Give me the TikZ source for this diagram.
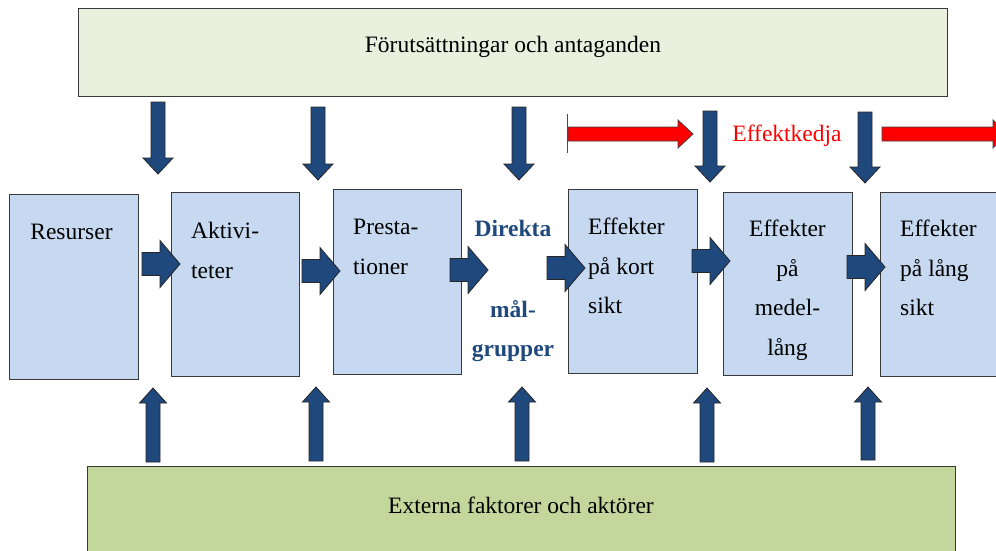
\documentclass[tikz,border=0pt]{standalone}
\usepackage{fontspec}
\setmainfont{Liberation Serif}
\definecolor{topfill}{HTML}{EBEFDE}
\definecolor{botfill}{HTML}{C3D69B}
\definecolor{boxfill}{HTML}{C6D9F1}
\definecolor{arrblue}{HTML}{1F497D}
\definecolor{boxline}{HTML}{3A3A3A}
\newcommand{\DArr}[3]{\filldraw[blockarr] (#1-7,#2) -- (#1+7,#2) -- (#1+7,#3-16) -- (#1+15,#3-16) -- (#1,#3) -- (#1-15,#3-16) -- (#1-7,#3-16) -- cycle;}
\newcommand{\UArr}[3]{\filldraw[blockarr] (#1-7,#3) -- (#1+7,#3) -- (#1+7,#2+15) -- (#1+13.5,#2+15) -- (#1,#2) -- (#1-13.5,#2+15) -- (#1-7,#2+15) -- cycle;}
\newcommand{\RArr}[3]{\filldraw[blockarr] (#1,#3-11.5) -- (#2-20,#3-11.5) -- (#2-20,#3-23.5) -- (#2,#3) -- (#2-20,#3+23.5) -- (#2-20,#3+11.5) -- (#1,#3+11.5) -- cycle;}
\newcommand{\RedArr}[2]{\filldraw[redarr] (#1,127) -- (#2-15,127) -- (#2-15,120) -- (#2,134) -- (#2-15,148) -- (#2-15,141) -- (#1,141) -- cycle;}
\begin{document}
\begin{tikzpicture}[x=1pt,y=-1pt,
  bigbox/.style={draw=boxline, line width=1.2pt, anchor=north west, inner sep=0pt},
  pbox/.style={draw=boxline, line width=1.1pt, fill=boxfill, anchor=north west, inner sep=0pt},
  blockarr/.style={fill=arrblue, draw=black!85, line width=0.8pt, line join=miter},
  redarr/.style={fill=red, draw=black!75, line width=0.8pt, line join=miter},
  txt/.style={inner sep=0pt, font=\fontsize{23.5}{39.5}\selectfont},
]
\useasboundingbox (0,0) rectangle (996,550);
\begin{scope}
\clip (0,0) rectangle (996,550);
% top and bottom boxes
\node[bigbox, fill=topfill, minimum width=869pt, minimum height=88pt] (top) at (78,8) {};
\node[bigbox, fill=botfill, minimum width=868pt, minimum height=100pt] (bot) at (87,466) {};
\node[txt, anchor=base] (toptxt) at (513,52) {Förutsättningar och antaganden};
\node[txt, anchor=base] (bottxt) at (521,513) {Externa faktorer och aktörer};
% process boxes
\node[pbox, minimum width=129pt, minimum height=185pt] (res) at (9,194) {};
\node[pbox, minimum width=128pt, minimum height=184pt] (akt) at (171,192) {};
\node[pbox, minimum width=128pt, minimum height=185pt] (pre) at (333,189) {};
\node[pbox, minimum width=129pt, minimum height=184pt] (kort) at (568,189) {};
\node[pbox, minimum width=129pt, minimum height=183pt] (medel) at (723,192) {};
\node[pbox, minimum width=130pt, minimum height=184pt] (lang) at (880,192) {};
% box texts
\node[txt, anchor=base] (restxt) at (71.5,239) {Resurser};
\node[txt, anchor=north west, align=left] (akttxt) at (191,222) {Aktivi-\\teter};
\node[txt, anchor=north west, align=left] (pretxt) at (353,219) {Presta-\\tioner};
\node[txt, anchor=north, align=center, text=arrblue, font=\fontsize{23.5}{39.5}\selectfont\bfseries] (dirtxt) at (513,220) {Direkta\\[41pt]mål-\\grupper};
\node[txt, anchor=north west, align=left] (korttxt) at (588,218) {Effekter\\på kort\\sikt};
\node[txt, anchor=north, align=center] (medeltxt) at (787.5,220) {Effekter\\på\\medel-\\lång};
\node[txt, anchor=north west, align=left] (langtxt) at (900,220) {Effekter\\på lång\\sikt};
% effect chain
\node[txt, anchor=base, text=red] (kedja) at (787,141) {Effektkedja};
\draw[black!70, line width=1pt] (567,114) -- (567,153);
\RedArr{568}{693}
\RedArr{882}{1008}
% down arrows
\DArr{158}{102}{174}
\DArr{318}{107}{180}
\DArr{519}{107}{180}
\DArr{710}{111}{182}
\DArr{865}{112}{183}
% up arrows
\UArr{153}{388}{462}
\UArr{316}{387}{461}
\UArr{522}{387}{461}
\UArr{707}{388}{462}
\UArr{868}{387}{460}
% right arrows
\RArr{142}{180}{264}
\RArr{302}{340}{271}
\RArr{450}{488}{270}
\RArr{547}{585}{268}
\RArr{692}{730}{261}
\RArr{847}{885}{267}
\end{scope}
\end{tikzpicture}
\end{document}
